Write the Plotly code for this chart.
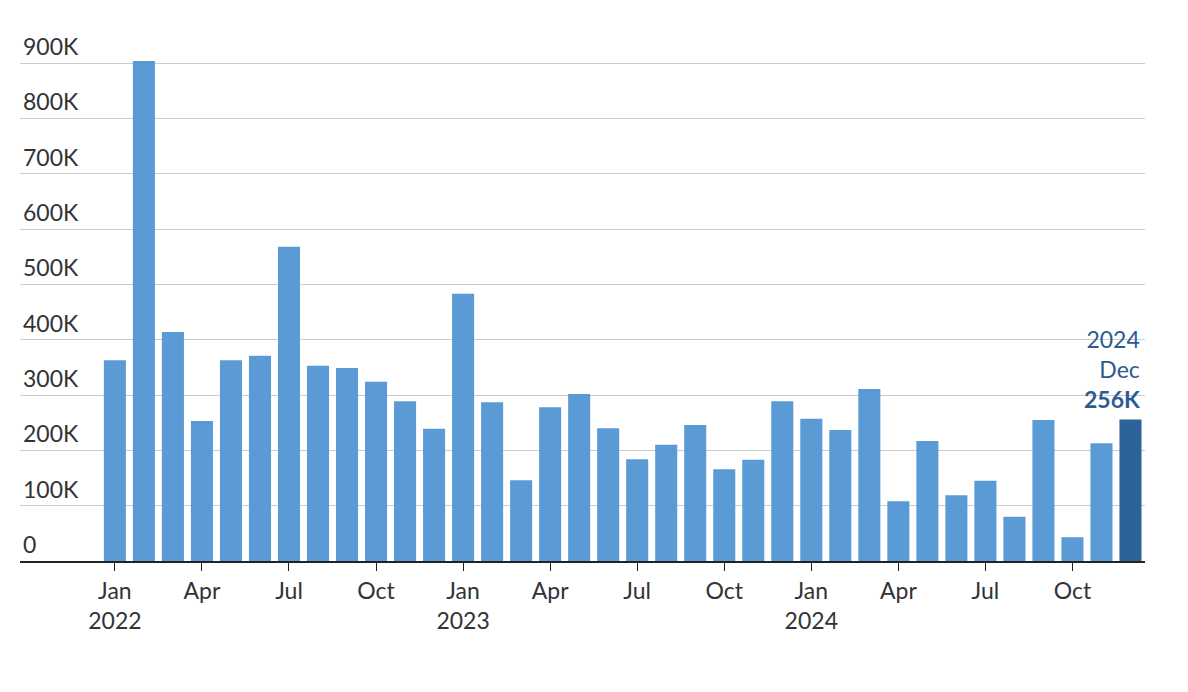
import plotly.graph_objects as go

values_k = [363, 904, 414, 253, 363, 371, 568, 353, 349, 324, 289, 239,
            483, 287, 146, 278, 302, 240, 184, 210, 246, 166, 183, 289,
            257, 237, 311, 108, 217, 119, 145, 80, 255, 43, 213, 256]
tick_pos = [0, 3, 6, 9, 12, 15, 18, 21, 24, 27, 30, 33]
tick_text = ["Jan<br>2022", "Apr", "Jul", "Oct", "Jan<br>2023", "Apr", "Jul", "Oct",
             "Jan<br>2024", "Apr", "Jul", "Oct"]
y_ticks = [0, 100000, 200000, 300000, 400000, 500000, 600000, 700000, 800000, 900000]
y_text = ["0", "100K", "200K", "300K", "400K", "500K", "600K", "700K", "800K", "900K"]

x = list(range(len(values_k)))
y = [v * 1000 for v in values_k]
colors = ["#5b9bd5"] * (len(y) - 1) + ["#2c6399"]

fig = go.Figure(go.Bar(x=x, y=y, marker_color=colors, marker_line_width=0, width=0.76))
fig.add_annotation(x=x[-1] + 0.38, y=y[-1], xanchor="right", yanchor="bottom", align="right",
                   showarrow=False, yshift=4,
                   text="2024<br>Dec<br><b>256K</b>",
                   font=dict(size=23, color="#2c5b92", family="Lato"))
fig.update_layout(
    width=1188, height=692, paper_bgcolor="white", plot_bgcolor="white",
    margin=dict(l=12, r=51, t=12, b=139), showlegend=False,
    font=dict(family="Lato", size=23, color="#333"), bargap=0.24,
)
fig.update_xaxes(range=[-3.27, 35.5], tickvals=tick_pos, ticktext=tick_text,
                 showline=True, linecolor="#222", linewidth=2, ticks="outside",
                 ticklen=8, tickcolor="#222", showgrid=False, zeroline=False,
                 tickfont=dict(size=23, color="#333"))
fig.update_yaxes(range=[0, 978000], tickvals=y_ticks, ticktext=y_text,
                 ticklabelposition="inside top", showgrid=True, gridcolor="#cccccc",
                 gridwidth=1, zeroline=False, tickfont=dict(size=23, color="#333"))
fig.write_html("out.html")
